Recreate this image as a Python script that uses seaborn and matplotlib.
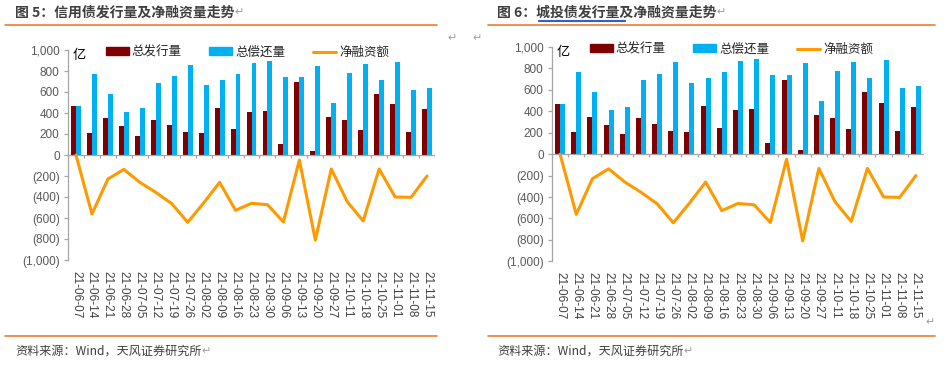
import numpy as np
import pandas as pd
import seaborn as sns
import matplotlib.pyplot as plt
from matplotlib.patches import Patch
from matplotlib.lines import Line2D

# weekly data, 亿元 (both panels show the same figures)
dates = ['21-06-07', '21-06-14', '21-06-21', '21-06-28', '21-07-05', '21-07-12',
         '21-07-19', '21-07-26', '21-08-02', '21-08-09', '21-08-16', '21-08-23',
         '21-08-30', '21-09-06', '21-09-13', '21-09-20', '21-09-27', '21-10-11',
         '21-10-18', '21-10-25', '21-11-01', '21-11-08', '21-11-15']
issue = [470, 206, 349, 276, 184, 333, 286, 216, 206, 451, 244, 413,
         419, 105, 695, 38, 362, 333, 235, 578, 482, 216, 438]
repay = [470, 768, 578, 413, 444, 689, 749, 857, 663, 711, 771, 873,
         892, 743, 743, 848, 495, 778, 863, 711, 882, 619, 638]
net = [0, -562, -229, -137, -260, -356, -463, -641, -457, -260, -527, -460,
       -473, -638, -48, -810, -133, -445, -628, -133, -400, -403, -200]

series_names = ['总发行量', '总偿还量', '净融资额']
titles = ['图 5：信用债发行量及净融资量走势', '图 6：城投债发行量及净融资量走势']
source = '资料来源：Wind，天风证券研究所'

red = '#7F0000'
blue = '#00B0F0'
orange = '#FF9900'
rule = '#ED7D31'
grey = '#A6A6A6'

bars = pd.DataFrame({'date': dates * 2,
                     'value': issue + repay,
                     'series': [series_names[0]] * len(dates) + [series_names[1]] * len(dates)})

sns.set_theme(style='white')
plt.rcParams['font.family'] = ['Noto Sans CJK SC', 'DejaVu Sans']

W, H = 948, 367
fig = plt.figure(figsize=(W / 100, H / 100), dpi=100)


def fx(x):
    return x / W


def fy(y):
    return 1 - y / H


def hline(x0, x1, y, color, lw):
    fig.add_artist(Line2D([fx(x0), fx(x1)], [fy(y), fy(y)], color=color, lw=lw,
                          transform=fig.transFigure))


def ret_mark(x, y):
    fig.text(fx(x), fy(y), '↵', fontsize=8, color='#A0A0A0', ha='center', va='center')


def draw_panel(left, top, right, bottom, title, tx, rx0, rx1, legend_x):
    ax = fig.add_axes([fx(left), fy(bottom), fx(right - left), (bottom - top) / H])
    sns.barplot(data=bars, x='date', y='value', hue='series', palette=[red, blue],
                width=0.62, saturation=1, linewidth=0, legend=False, ax=ax)
    sns.lineplot(x=np.arange(len(dates)), y=net, color=orange, lw=2.2, ax=ax)

    n = len(dates)
    ax.set_xlim(-0.5, n - 0.5)
    ax.set_ylim(-1000, 1000)
    ax.set_xlabel('')
    ax.set_ylabel('')
    for s in ['top', 'right', 'bottom']:
        ax.spines[s].set_visible(False)
    ax.spines['left'].set_color(grey)
    ax.spines['left'].set_linewidth(0.9)
    ax.axhline(0, color=grey, lw=0.9)
    ax.vlines(np.arange(n + 1) - 0.5, -30, 0, color=grey, lw=0.9)

    yt = list(range(-1000, 1001, 200))
    ax.set_yticks(yt)
    ax.set_yticklabels([f'{v:,}' if v >= 0 else f'({-v:,})' for v in yt],
                       fontfamily='Liberation Sans')
    ax.tick_params(axis='y', left=True, length=3, width=0.9, color=grey, pad=3,
                   labelsize=8.5, labelcolor='#595959')
    ax.set_xticks(range(n))
    ax.set_xticklabels(dates, rotation=-90, fontfamily='Liberation Sans')
    ax.tick_params(axis='x', bottom=False, length=0, pad=8, labelsize=8.5,
                   labelcolor='#404040')

    ax.text(0.013, 0.975, '亿', transform=ax.transAxes, fontsize=9.5, va='center',
            ha='left', color='black')

    handles = [Patch(color=red), Patch(color=blue), Line2D([], [], color=orange, lw=2.2)]
    ax.legend(handles, series_names, ncol=3, frameon=False, loc='center',
              bbox_to_anchor=(legend_x, 0.99), fontsize=9, handlelength=1.85,
              handleheight=0.55, handletextpad=0.25, columnspacing=2.2)

    t = fig.text(fx(tx), fy(12.5), title, fontsize=10, fontweight='bold', color='#3F3F3F',
                 ha='left', va='center')
    ax.annotate('↵', xy=(1, 0.5), xycoords=t, va='center', ha='left', fontsize=8,
                color='#A0A0A0', annotation_clip=False)
    s = fig.text(fx(tx), fy(351.5), source, fontsize=8.7, color='#3F3F3F',
                 ha='left', va='center')
    ax.annotate('↵', xy=(1, 0.5), xycoords=s, va='center', ha='left', fontsize=8,
                color='#A0A0A0', annotation_clip=False)
    hline(rx0, rx1, 25, rule, 1.2)
    hline(rx0, rx1, 336, rule, 1.2)
    return ax


draw_panel(68, 50, 435, 260, titles[0], 15, 5, 437, 0.489)
draw_panel(552, 47, 924, 261.3, titles[1], 497, 488, 935, 0.4825)

# spell-check style underline under 城投债发行量
hline(538, 625, 19.5, '#3060D0', 0.8)
hline(538, 625, 21, '#3060D0', 0.8)

ret_mark(452, 38)
ret_mark(477, 38)
ret_mark(930, 322)

fig.savefig('out.png', dpi=100)
